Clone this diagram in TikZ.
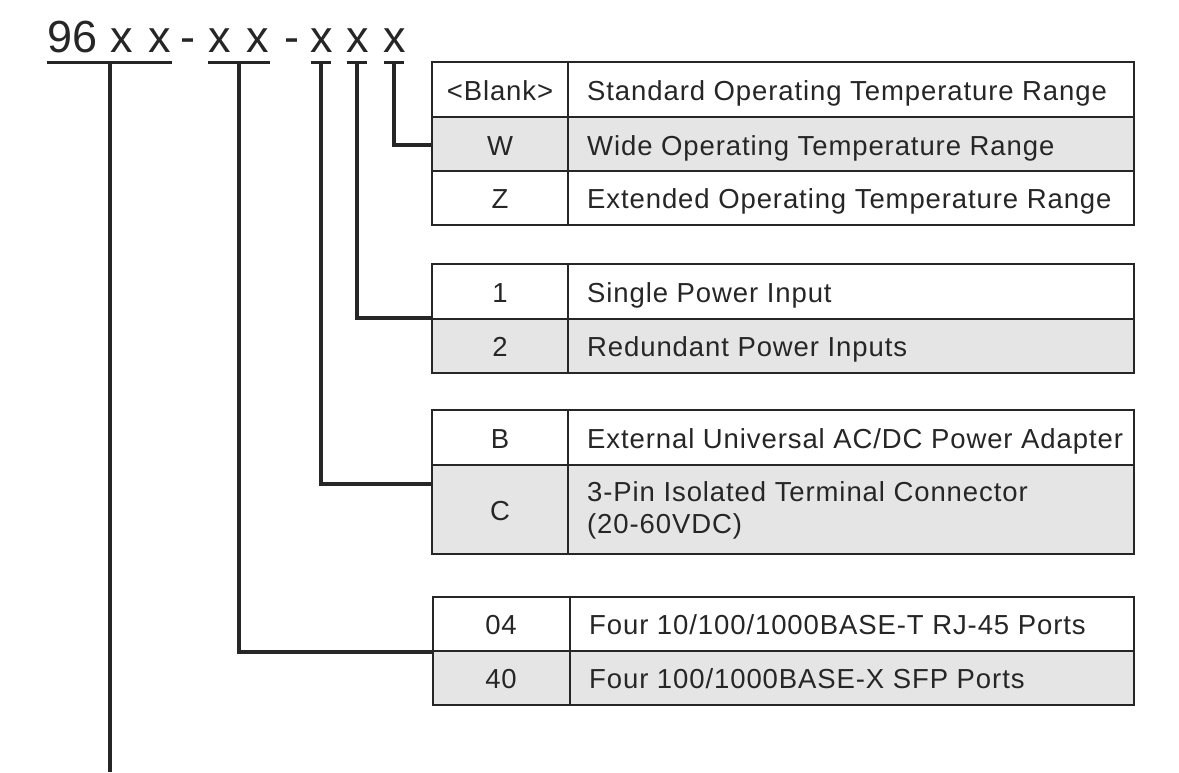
\documentclass[tikz,border=0pt]{standalone}
\usepackage{fontspec}
\setmainfont{Liberation Sans}
\begin{document}
\begin{tikzpicture}[x=1pt,y=-1pt,
 cell/.style={draw=black!85,line width=1.6pt},
 g/.style={cell,fill=black!10},
 w/.style={cell,fill=white},
 t/.style={font=\fontsize{27.5}{32}\selectfont\addfontfeatures{LetterSpace=3.3},text=black!85,inner sep=0pt},
 big/.style={font=\fontsize{45}{50}\selectfont,text=black!85,inner sep=0pt,anchor=base},
 ln/.style={line width=4pt,black!85}]
\useasboundingbox (0,0) rectangle (1179,772);
% title
\node[big] (c96) at (73,52) {96};
\foreach \n/\x/\s in {a/122/x,b/160/x,d1/188/-,c/220/x,d/258/x,d2/292/-,e/322/x,f/358/x,h/395/x}
  \node[big] (\n) at (\x,52) {\s};
\foreach \a/\b in {47/172,208/270,311/331,347/367,384/404}
  \draw[ln,line width=3pt] (\a,62) -- (\b,62);
% tables
\foreach \ya/\yb/\s in {62/117/w,117/171/g,171/225/w,264/319/w,319/373/g,410/465/w,465/554/g}{
 \draw[\s] (432,\ya) rectangle (568,\yb);
 \draw[\s] (568,\ya) rectangle (1134,\yb);}
\foreach \ya/\yb/\s in {597/651/w,651/705/g}{
 \draw[\s] (433,\ya) rectangle (570,\yb);
 \draw[\s] (570,\ya) rectangle (1134,\yb);}
\node[t,anchor=base] (k1) at (500,100) {<Blank>};
\node[t,anchor=base west] (v1) at (587,100) {Standard Operating Temperature Range};
\node[t,anchor=base] (k2) at (500,155) {W};
\node[t,anchor=base west] (v2) at (587,155) {Wide Operating Temperature Range};
\node[t,anchor=base] (k3) at (500,208) {Z};
\node[t,anchor=base west] (v3) at (587,208) {Extended Operating Temperature Range};
\node[t,anchor=base] (k4) at (500,302) {1};
\node[t,anchor=base west] (v4) at (587,302) {Single Power Input};
\node[t,anchor=base] (k5) at (500,356) {2};
\node[t,anchor=base west] (v5) at (587,356) {Redundant Power Inputs};
\node[t,anchor=base] (k6) at (500,448) {B};
\node[t,anchor=base west] (v6) at (587,448) {External Universal AC/DC Power Adapter};
\node[t,anchor=base] (k7) at (500,520) {C};
\node[t,anchor=west,align=left] (v7) at (587,510) {3-Pin Isolated Terminal Connector\\(20-60VDC)};
\node[t,anchor=base] (k8) at (501,634) {04};
\node[t,anchor=base west] (v8) at (589,634) {Four 10/100/1000BASE-T RJ-45 Ports};
\node[t,anchor=base] (k9) at (501,688) {40};
\node[t,anchor=base west] (v9) at (589,688) {Four 100/1000BASE-X SFP Ports};
% connectors
\coordinate (p1) at (394,62); \coordinate (q1) at (432,145);
\coordinate (p2) at (357,62); \coordinate (q2) at (432,318);
\coordinate (p3) at (321,62); \coordinate (q3) at (432,484);
\coordinate (p4) at (239,62); \coordinate (q4) at (433,652);
\coordinate (p5) at (110,62); \coordinate (q5) at (110,772);
\draw[ln] (p1) |- (q1);
\draw[ln] (p2) |- (q2);
\draw[ln] (p3) |- (q3);
\draw[ln] (p4) |- (q4);
\draw[ln] (p5) -- (q5);
\end{tikzpicture}
\end{document}
